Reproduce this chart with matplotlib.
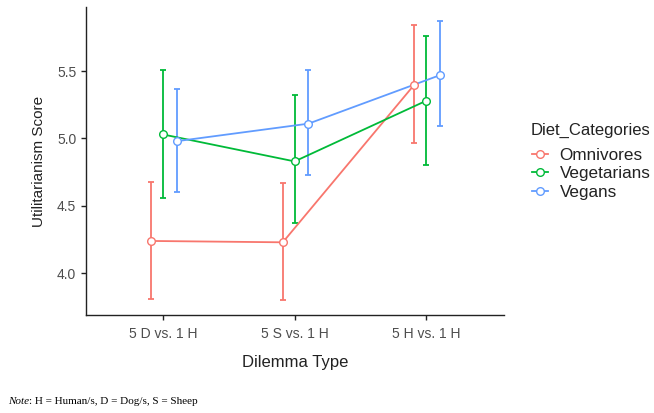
import numpy as np
import matplotlib.pyplot as plt
from matplotlib.lines import Line2D

# ================================
# DATA
# ================================
dilemmas = ["5 D vs. 1 H", "5 S vs. 1 H", "5 H vs. 1 H"]
groups = ["Omnivores", "Vegetarians", "Vegans"]
colors = ["#F8766D", "#00BA38", "#619CFF"]

omni_mean = [4.24, 4.23, 5.40]
omni_low = [3.81, 3.80, 4.97]
omni_high = [4.68, 4.67, 5.84]

veget_mean = [5.03, 4.83, 5.28]
veget_low = [4.56, 4.37, 4.80]
veget_high = [5.51, 5.32, 5.76]

vegan_mean = [4.98, 5.11, 5.47]
vegan_low = [4.60, 4.73, 5.09]
vegan_high = [5.37, 5.51, 5.87]

means = [omni_mean, veget_mean, vegan_mean]
lows = [omni_low, veget_low, vegan_low]
highs = [omni_high, veget_high, vegan_high]
dodge = [-0.09, 0.0, 0.105]

# ================================
# PLOTTING
# ================================
plt.rcParams['font.family'] = ['Liberation Sans', 'DejaVu Sans']

fig = plt.figure(figsize=(6.54, 4.13), dpi=100)
ax = fig.add_axes([0.1315, 0.237, 0.639, 0.746])

x = np.arange(1, len(dilemmas) + 1)
for m, lo, hi, c, d in zip(means, lows, highs, colors, dodge):
    m = np.array(m)
    xs = x + d
    yerr = [m - np.array(lo), np.array(hi) - m]
    ax.errorbar(xs, m, yerr=yerr, fmt='none', ecolor=c, elinewidth=1.3,
                capsize=2.5, capthick=1.3, zorder=2)
    ax.plot(xs, m, color=c, lw=1.3, zorder=3)
    ax.plot(xs, m, 'o', mfc='white', mec=c, mew=1.0, ms=5.5, zorder=4)

ax.set_xlim(0.415, 3.59)
ax.set_ylim(3.69, 5.975)
ax.set_xticks(x)
ax.set_xticklabels(dilemmas)
ax.set_yticks([4.0, 4.5, 5.0, 5.5])
ax.set_yticklabels(["4.0", "4.5", "5.0", "5.5"])

for s in ['top', 'right']:
    ax.spines[s].set_visible(False)
for s in ['left', 'bottom']:
    ax.spines[s].set_color('#222222')
    ax.spines[s].set_linewidth(1.0)
ax.tick_params(axis='both', colors='#222222', length=3.5, width=1.0,
               labelcolor='#4D4D4D', labelsize=10)
ax.tick_params(axis='x', pad=5)

ax.set_xlabel("Dilemma Type", fontsize=12, color='#222222', labelpad=10)
ax.set_ylabel("Utilitarianism Score", fontsize=11, color='#222222', labelpad=8)

# legend: title as separate text so the gap matches ggplot's layout
fig.text(0.812, 0.685, "Diet_Categories", fontsize=12, va='center',
         ha='left', color='#222222')
handles = [Line2D([0], [0], color=c, lw=1.3, marker='o', mfc='white',
                  mec=c, ms=5.5) for c in colors]
leg = fig.legend(handles, groups, loc='upper left',
                 bbox_to_anchor=(0.8135, 0.642), frameon=False, fontsize=12.3,
                 handlelength=0.92, handletextpad=0.69,
                 labelspacing=0.2, borderaxespad=0, borderpad=0)
for t in leg.get_texts():
    t.set_color('#222222')

fig.text(0.012, 0.022, "Note", fontsize=8, style='italic',
         family='Liberation Serif')
fig.text(0.044, 0.022, ": H = Human/s, D = Dog/s, S = Sheep", fontsize=8,
         family='Liberation Serif')

fig.savefig("out.png", dpi=100)
